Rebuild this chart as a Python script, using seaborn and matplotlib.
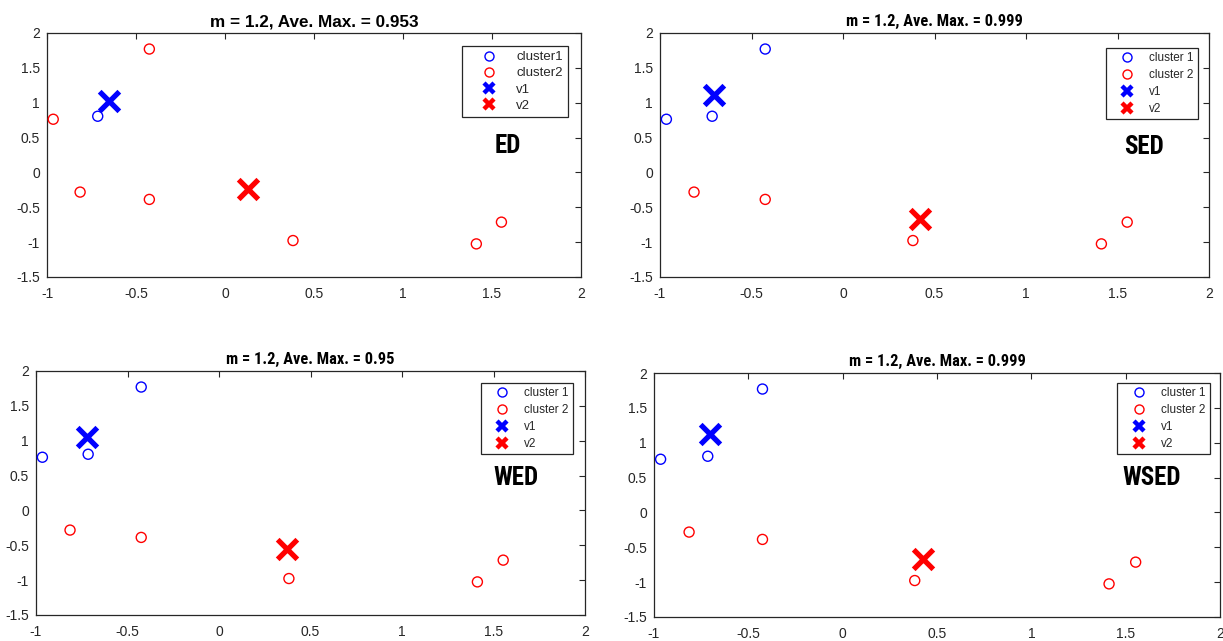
import matplotlib
matplotlib.use("Agg")
import matplotlib.pyplot as plt
from matplotlib.lines import Line2D
from matplotlib import font_manager
import numpy as np
import pandas as pd
import seaborn as sns

# ---- data ----
x_pts = [-0.965, -0.715, -0.425, -0.814, -0.425, 0.382, 1.412, 1.553]
y_pts = [0.763, 0.806, 1.770, -0.282, -0.387, -0.977, -1.025, -0.713]

cluster_ED = [2, 1, 2, 2, 2, 2, 2, 2]
cluster_SED = [1, 1, 1, 2, 2, 2, 2, 2]
cluster_WED = [1, 1, 1, 2, 2, 2, 2, 2]
cluster_WSED = [1, 1, 1, 2, 2, 2, 2, 2]

panel_names = ["ED", "SED", "WED", "WSED"]
titles = ["m = 1.2, Ave. Max. = 0.953", "m = 1.2, Ave. Max. = 0.999",
          "m = 1.2, Ave. Max. = 0.95", "m = 1.2, Ave. Max. = 0.999"]
v1_x = [-0.649, -0.707, -0.723, -0.704]
v1_y = [1.027, 1.113, 1.053, 1.120]
v2_x = [0.132, 0.419, 0.374, 0.424]
v2_y = [-0.234, -0.670, -0.554, -0.669]
legend_c1 = ["cluster1", "cluster 1", "cluster 1", "cluster 1"]
legend_c2 = ["cluster2", "cluster 2", "cluster 2", "cluster 2"]

x_ticks = [-1, -0.5, 0, 0.5, 1, 1.5, 2]
y_ticks = [-1.5, -1, -0.5, 0, 0.5, 1, 1.5, 2]

clusters = [cluster_ED, cluster_SED, cluster_WED, cluster_WSED]

# ---- layout ----
W, H = 1223, 641
px_axes = [(47, 33, 534, 244), (660, 33, 549, 244), (36, 371, 549, 244), (654, 373, 566, 244)]
axes_pos = [[l / W, 1 - (t + h) / H, w / W, h / H] for (l, t, w, h) in px_axes]
legend_anchor = [(0.976, 0.948), (0.980, 0.939), (0.978, 0.951), (0.982, 0.959)]
label_pos = [(1.587, 0.372), (1.644, 0.365), (1.622, 0.465), (1.639, 0.494)]

sns.set_style("white")
plt.rcParams["font.family"] = ["Liberation Sans", "DejaVu Sans"]
plt.rcParams["axes.unicode_minus"] = False

# pick a condensed bold face if one is installed
cond_family = None
names = {f.name for f in font_manager.fontManager.ttflist}
for cand in ["Liberation Sans Narrow", "DejaVu Sans Condensed", "Roboto Condensed",
             "Open Sans Condensed", "Noto Sans Condensed"]:
    if cand in names:
        cond_family = cand
        break
cond_stretch = "normal"
if cond_family is None:
    for f in font_manager.fontManager.ttflist:
        if f.name == "DejaVu Sans" and "ondensed" in f.fname:
            cond_family = "DejaVu Sans"
            cond_stretch = "condensed"
            break
if cond_family is None:
    cond_family = "Liberation Sans"

fig = plt.figure(figsize=(W / 100, H / 100), dpi=100)
fig.patch.set_facecolor("white")

dark = "#262626"
colors = {1: "#0000ff", 2: "#ff0000"}

for i in range(4):
    ax = fig.add_axes(axes_pos[i])
    df = pd.DataFrame({"x": x_pts, "y": y_pts, "c": clusters[i]})
    for c in (1, 2):
        sub = df[df["c"] == c]
        n_before = len(ax.collections)
        sns.scatterplot(data=sub, x="x", y="y", ax=ax, marker="o", s=52,
                        color=colors[c], linewidth=1.0, legend=False, zorder=3)
        for coll in ax.collections[n_before:]:
            coll.set_facecolor("none")
            coll.set_edgecolor(colors[c])
            coll.set_linewidth(1.0)
    for vx, vy, c in ((v1_x[i], v1_y[i], 1), (v2_x[i], v2_y[i], 2)):
        n_before = len(ax.collections)
        sns.scatterplot(x=[vx], y=[vy], ax=ax, marker="x", s=200,
                        color=colors[c], linewidth=3.8, legend=False, zorder=4)
        for coll in ax.collections[n_before:]:
            coll.set_facecolor(colors[c])
            coll.set_edgecolor(colors[c])
            coll.set_linewidth(3.8)

    ax.set_xlim(-1, 2)
    ax.set_ylim(-1.5, 2)
    ax.set_xticks(x_ticks)
    ax.set_yticks(y_ticks)
    ax.set_xticklabels(["%g" % t for t in x_ticks])
    ax.set_yticklabels(["%g" % t for t in y_ticks])
    ax.set_xlabel("")
    ax.set_ylabel("")
    ax.tick_params(direction="in", top=True, right=True, length=4, width=0.8,
                   colors=dark, labelsize=10, pad=5)
    ax.tick_params(axis="x", pad=7)
    for sp in ax.spines.values():
        sp.set_visible(True)
        sp.set_color(dark)
        sp.set_linewidth(0.9)

    if i == 0:
        ax.set_title(titles[i], fontsize=12.3, fontweight="bold", color="black",
                     family=["Liberation Sans", "DejaVu Sans"], pad=5)
        leg_fs, hl, htp, lsp, bp = 9.5, 3.4, 0.35, 0.3, 0.4
    else:
        ax.set_title(titles[i], fontsize=11.8, fontweight="bold", color="black",
                     family=[cond_family, "Liberation Sans", "DejaVu Sans"],
                     fontstretch=cond_stretch, pad=5)
        leg_fs, hl, htp, lsp, bp = 8.5, 2.9, 0.45, 0.42, 0.35

    handles = [
        Line2D([], [], linestyle="none", marker="o", markersize=6.5, markerfacecolor="none",
               markeredgecolor=colors[1], markeredgewidth=1.0),
        Line2D([], [], linestyle="none", marker="o", markersize=6.5, markerfacecolor="none",
               markeredgecolor=colors[2], markeredgewidth=1.0),
        Line2D([], [], linestyle="none", marker="x", markersize=7.5, markeredgecolor=colors[1],
               markeredgewidth=3.2),
        Line2D([], [], linestyle="none", marker="x", markersize=7.5, markeredgecolor=colors[2],
               markeredgewidth=3.2),
    ]
    leg = ax.legend(handles, [legend_c1[i], legend_c2[i], "v1", "v2"],
                    loc="upper right", bbox_to_anchor=legend_anchor[i], borderaxespad=0,
                    fontsize=leg_fs, frameon=True, fancybox=False, framealpha=1,
                    edgecolor=dark, handlelength=hl, handletextpad=htp,
                    labelspacing=lsp, borderpad=bp)
    leg.get_frame().set_linewidth(0.9)
    for t in leg.get_texts():
        t.set_color(dark)

    ax.text(label_pos[i][0], label_pos[i][1], panel_names[i], ha="center", va="center",
            fontsize=18, fontweight="bold", color="black",
            family=[cond_family, "Liberation Sans", "DejaVu Sans"],
            fontstretch=cond_stretch)

fig.savefig("out.png", dpi=100, facecolor="white")
